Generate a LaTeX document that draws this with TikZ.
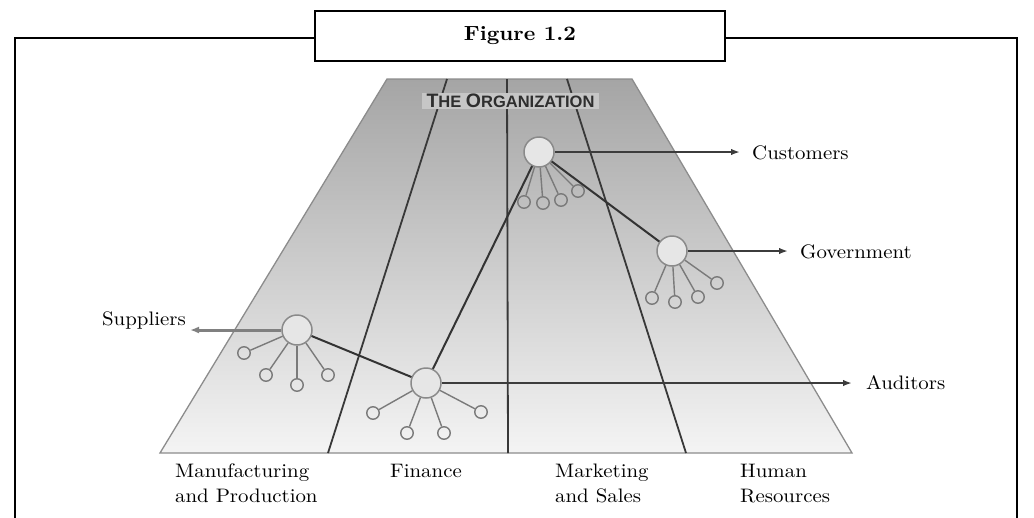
\documentclass[tikz,border=0pt]{standalone}
\usepackage{fontspec}
\setmainfont{lmroman10-regular.otf}[BoldFont=lmroman10-bold.otf, FakeStretch=1.07]
\newfontfamily\orgfont{Liberation Sans}
\usetikzlibrary{arrows.meta}
\definecolor{trapTop}{HTML}{A5A5A5}
\definecolor{trapBot}{HTML}{F4F4F4}
\definecolor{trapEdge}{HTML}{8C8C8C}
\definecolor{divcol}{HTML}{383838}
\definecolor{hubfill}{HTML}{E6E6E6}
\definecolor{hubdraw}{HTML}{8A8A8A}
\definecolor{kidcol}{HTML}{7A7A7A}
\definecolor{linkcol}{HTML}{333333}
\definecolor{arrcol}{HTML}{3C3C3C}
\definecolor{suparr}{HTML}{808080}
\definecolor{orgbg}{HTML}{C6C6C6}
\definecolor{orgtext}{HTML}{2E2E2E}
\begin{document}
\begin{tikzpicture}[x=1pt,y=-1pt,
  frame/.style={line width=2pt, draw=black},
  titlebox/.style={draw=black, line width=2pt, fill=white, minimum width=410pt, minimum height=50pt, font=\fontsize{20.5}{24}\selectfont\bfseries},
  divline/.style={draw=divcol, line width=1.8pt},
  hub/.style={circle, draw=hubdraw, fill=hubfill, line width=1.5pt, minimum size=30pt, inner sep=0pt},
  kid/.style={circle, draw=kidcol, line width=1.4pt, minimum size=12.5pt, inner sep=0pt},
  kidline/.style={draw=kidcol, line width=1.4pt},
  link/.style={draw=linkcol, line width=2pt},
  arr/.style={draw=arrcol, line width=2.4pt, -{Latex[length=9pt,width=6.5pt]}},
  suparrow/.style={draw=suparr, line width=3pt, -{Latex[length=9pt,width=7pt]}},
  lbl/.style={font=\fontsize{19.5}{25}\selectfont, inner sep=0pt, align=left},
  orgbox/.style={fill=orgbg, text=orgtext, inner xsep=5pt, inner ysep=1pt, font=\orgfont\bfseries}
]
\useasboundingbox (0,0) rectangle (1034,517);
% outer frame
\draw[frame] (315,37.5) -| (15,520);
\draw[frame] (725,37.5) -| (1017,520);
\node[titlebox] (title) at (520,36) {Figure 1.2};
% trapezoid
\shadedraw[top color=trapTop, bottom color=trapBot, draw=trapEdge, line width=1.3pt]
  (387,79) -- (632,79) -- (852,453) -- (160,453) -- cycle;
% dividers
\draw[divline] (447,79) -- (328,453);
\draw[divline] (507,79) -- (508,453);
\draw[divline] (567,79) -- (686,453);
% organization label
\node[orgbox] (org) at (510.5,101)
  {\fontsize{19.5}{19.5}\selectfont T\fontsize{16.5}{16.5}\selectfont HE \fontsize{19.5}{19.5}\selectfont O\fontsize{16.5}{16.5}\selectfont RGANIZATION};
% hubs
\node[hub] (hc) at (539,152) {};
\node[hub] (hg) at (672,251) {};
\node[hub] (hs) at (297,330) {};
\node[hub] (ha) at (426,383) {};
% children
\node[kid] (c1) at (524,202) {};
\node[kid] (c2) at (543,203) {};
\node[kid] (c3) at (561,200) {};
\node[kid] (c4) at (578,191) {};
\node[kid] (g1) at (652,298) {};
\node[kid] (g2) at (675,302) {};
\node[kid] (g3) at (698,297) {};
\node[kid] (g4) at (717,283) {};
\node[kid] (s1) at (244,353) {};
\node[kid] (s2) at (266,375) {};
\node[kid] (s3) at (297,385) {};
\node[kid] (s4) at (328,375) {};
\node[kid] (a1) at (373,413) {};
\node[kid] (a2) at (407,433) {};
\node[kid] (a3) at (444,433) {};
\node[kid] (a4) at (481,412) {};
\foreach \k in {c1,c2,c3,c4} \draw[kidline] (hc) -- (\k);
\foreach \k in {g1,g2,g3,g4} \draw[kidline] (hg) -- (\k);
\foreach \k in {s1,s2,s3,s4} \draw[kidline] (hs) -- (\k);
\foreach \k in {a1,a2,a3,a4} \draw[kidline] (ha) -- (\k);
% hub links
\draw[link] (hs) -- (ha);
\draw[link] (ha) -- (hc);
\draw[link] (hc) -- (hg);
% external arrows
\coordinate (tc) at (740,152);
\coordinate (tg) at (788,251);
\coordinate (ta) at (852,383);
\coordinate (ts) at (190,330);
\draw[arr] (hc.east) -- (tc);
\draw[arr] (hg.east) -- (tg);
\draw[arr] (ha.east) -- (ta);
\draw[suparrow] (hs.west) -- (ts);
\node[lbl, anchor=base west] (lc) at (752,159) {Customers};
\node[lbl, anchor=base west] (lg) at (800,258) {Government};
\node[lbl, anchor=base west] (la) at (866,389) {Auditors};
\node[lbl, anchor=base east] (ls) at (186,325) {Suppliers};
% bottom labels
\node[lbl, anchor=north west] (mp) at (175,464) {Manufacturing\\and Production};
\node[lbl, anchor=north west] (fi) at (390,464) {Finance};
\node[lbl, anchor=north west] (ms) at (555,464) {Marketing\\and Sales};
\node[lbl, anchor=north west] (hr) at (740,464) {Human\\Resources};
\end{tikzpicture}
\end{document}
